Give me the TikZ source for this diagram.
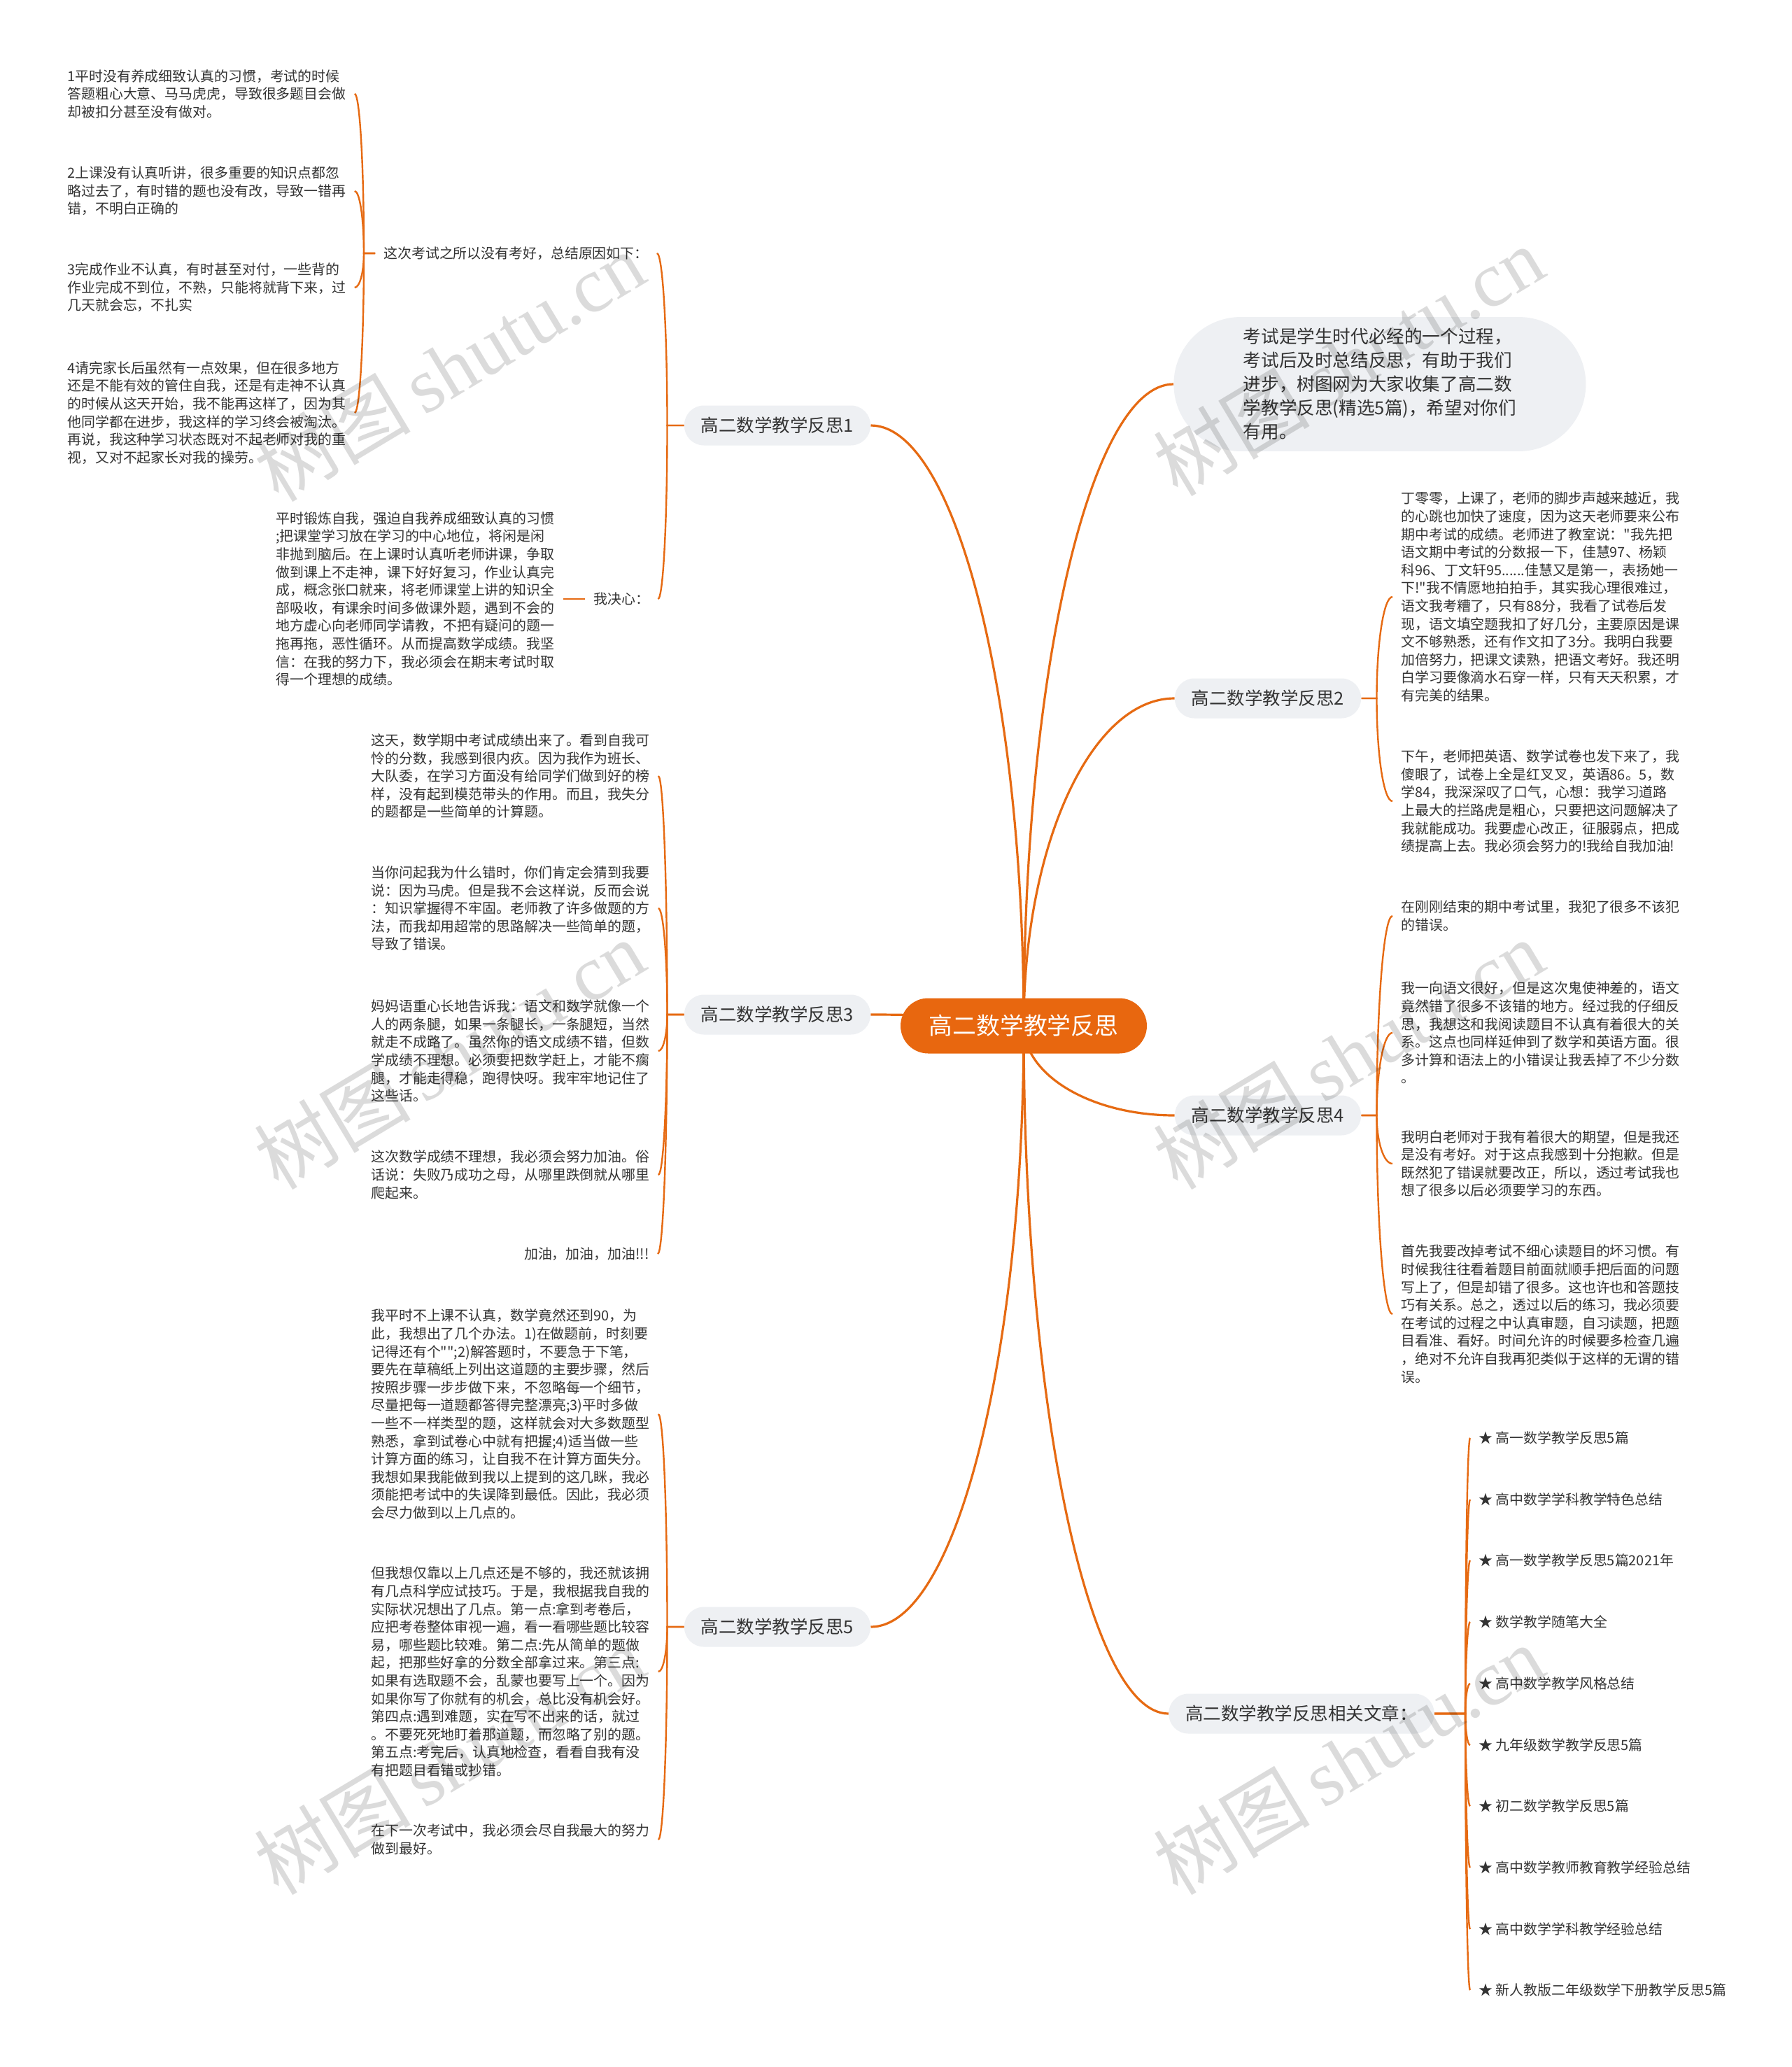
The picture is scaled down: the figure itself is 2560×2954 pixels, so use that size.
\documentclass[tikz,border=0pt]{standalone}
\usepackage{fontspec}
\setmainfont{Noto Sans CJK SC}[Ligatures=TeXOff]
\newfontfamily\wmserif{Liberation Serif}
\usetikzlibrary{calc}
\pgfdeclarelayer{back}
\pgfdeclarelayer{bg}
\pgfdeclarelayer{fore}
\pgfsetlayers{back,bg,main,fore}
\definecolor{conn}{HTML}{E66A12}
\definecolor{ctr}{HTML}{E8670F}
\definecolor{bfill}{HTML}{EEF0F3}
\definecolor{tx}{HTML}{333333}
\tikzset{
  brk/.style={to path={let \p1=([xshift=#1]\tikztostart), \p2=(\tikztotarget) in -- (\p1) .. controls ($(\p1)!0.5523!(\x1,\y2)$) and ($(\p2)!0.5523!(\x1,\y2)$) .. (\p2)}},
  mainln/.style={draw=conn, line width=1.6pt},
  subln/.style={draw=conn, line width=1.2pt},
  small/.style={font=\fontsize{9.95pt}{12.8pt}\selectfont, text=tx, align=left, inner xsep=6pt, inner ysep=0pt},
  branch/.style={fill=bfill, rounded corners=14pt, font=\fontsize{12.75pt}{15pt}\selectfont, text=tx, inner xsep=12pt, inner ysep=0pt, minimum height=28.5pt},
  centre/.style={fill=ctr, text=white, rounded corners=19.75pt, minimum width=176pt, minimum height=39.5pt, font=\fontsize{16.9pt}{20pt}\selectfont, inner sep=0pt},
  intro/.style={fill=bfill, rounded corners=48pt, font=\fontsize{12.8pt}{17pt}\selectfont, text=tx, align=left, inner xsep=48pt, inner ysep=8pt, minimum width=294.5pt},
  wm/.style={text=black, opacity=0.14, font=\fontsize{56pt}{56pt}\selectfont, inner sep=0pt}
}
\begin{document}
\begin{tikzpicture}[x=0.5pt, y=-0.5pt]
\useasboundingbox (0,0) rectangle (2560,2954);
\begin{pgfonlayer}{back}
\fill[white] (0,0) rectangle (2560,2954);
\end{pgfonlayer}

% centre and branches
\node[centre] (M) at (1463,1466) {高二数学教学反思};
\node[branch] (B1) at (1111,608) {高二数学教学反思1};
\node[branch] (B3) at (1111,1450) {高二数学教学反思3};
\node[branch] (B5) at (1111,2325) {高二数学教学反思5};
\node[branch] (B2) at (1812,998) {高二数学教学反思2};
\node[branch] (B4) at (1812,1594) {高二数学教学反思4};
\node[branch] (B6) at (1860,2449) {高二数学教学反思相关文章：};
\node[intro, anchor=west] (IN) at (1677,549) {考试是学生时代必经的一个过程，\\考试后及时总结反思，有助于我们\\进步，树图网为大家收集了高二数\\学教学反思(精选5篇)，希望对你们\\有用。};

% branch 1
\node[small, anchor=west] (C1a) at (536,362) {这次考试之所以没有考好，总结原因如下：};
\node[small, anchor=west] (C1b) at (836,856) {我决心：};
\node[small, anchor=west] (I1) at (84,134) {1平时没有养成细致认真的习惯，考试的时候\\答题粗心大意、马马虎虎，导致很多题目会做\\却被扣分甚至没有做对。};
\node[small, anchor=west] (I2) at (84,273) {2上课没有认真听讲，很多重要的知识点都忽\\略过去了，有时错的题也没有改，导致一错再\\错，不明白正确的};
\node[small, anchor=west] (I3) at (84,411) {3完成作业不认真，有时甚至对付，一些背的\\作业完成不到位，不熟，只能将就背下来，过\\几天就会忘，不扎实};
\node[small, anchor=west] (I4) at (84,590) {4请完家长后虽然有一点效果，但在很多地方\\还是不能有效的管住自我，还是有走神不认真\\的时候从这天开始，我不能再这样了，因为其\\他同学都在进步，我这样的学习终会被淘汰。\\再说，我这种学习状态既对不起老师对我的重\\视，又对不起家长对我的操劳。};
\node[small, anchor=west] (D1) at (382,856) {平时锻炼自我，强迫自我养成细致认真的习惯\\;把课堂学习放在学习的中心地位，将闲是闲\\非抛到脑后。在上课时认真听老师讲课，争取\\做到课上不走神，课下好好复习，作业认真完\\成，概念张口就来，将老师课堂上讲的知识全\\部吸收，有课余时间多做课外题，遇到不会的\\地方虚心向老师同学请教，不把有疑问的题一\\拖再拖，恶性循环。从而提高数学成绩。我坚\\信：在我的努力下，我必须会在期末考试时取\\得一个理想的成绩。};

% branch 3
\node[small, anchor=west] (T3a) at (518,1109) {这天，数学期中考试成绩出来了。看到自我可\\怜的分数，我感到很内疚。因为我作为班长、\\大队委，在学习方面没有给同学们做到好的榜\\样，没有起到模范带头的作用。而且，我失分\\的题都是一些简单的计算题。};
\node[small, anchor=west] (T3b) at (518,1298) {当你问起我为什么错时，你们肯定会猜到我要\\说：因为马虎。但是我不会这样说，反而会说\\：知识掌握得不牢固。老师教了许多做题的方\\法，而我却用超常的思路解决一些简单的题，\\导致了错误。};
\node[small, anchor=west] (T3c) at (518,1502) {妈妈语重心长地告诉我：语文和数学就像一个\\人的两条腿，如果一条腿长，一条腿短，当然\\就走不成路了。虽然你的语文成绩不错，但数\\学成绩不理想。必须要把数学赶上，才能不瘸\\腿，才能走得稳，跑得快呀。我牢牢地记住了\\这些话。};
\node[small, anchor=west] (T3d) at (518,1679) {这次数学成绩不理想，我必须会努力加油。俗\\话说：失败乃成功之母，从哪里跌倒就从哪里\\爬起来。};
\node[small, anchor=east] (T3e) at (940,1792) {加油，加油，加油!!!};

% branch 5
\node[small, anchor=west] (T5a) at (518,2021) {我平时不上课不认真，数学竟然还到90，为\\此，我想出了几个办法。1)在做题前，时刻要\\记得还有个"";2)解答题时，不要急于下笔，\\要先在草稿纸上列出这道题的主要步骤，然后\\按照步骤一步步做下来，不忽略每一个细节，\\尽量把每一道题都答得完整漂亮;3)平时多做\\一些不一样类型的题，这样就会对大多数题型\\熟悉，拿到试卷心中就有把握;4)适当做一些\\计算方面的练习，让自我不在计算方面失分。\\我想如果我能做到我以上提到的这几眯，我必\\须能把考试中的失误降到最低。因此，我必须\\会尽力做到以上几点的。};
\node[small, anchor=west] (T5b) at (518,2389) {但我想仅靠以上几点还是不够的，我还就该拥\\有几点科学应试技巧。于是，我根据我自我的\\实际状况想出了几点。第一点:拿到考卷后，\\应把考卷整体审视一遍，看一看哪些题比较容\\易，哪些题比较难。第二点:先从简单的题做\\起，把那些好拿的分数全部拿过来。第三点:\\如果有选取题不会，乱蒙也要写上一个。因为\\如果你写了你就有的机会，总比没有机会好。\\第四点:遇到难题，实在写不出来的话，就过\\。不要死死地盯着那道题，而忽略了别的题。\\第五点:考完后，认真地检查，看看自我有没\\有把题目看错或抄错。};
\node[small, anchor=west] (T5c) at (518,2629) {在下一次考试中，我必须会尽自我最大的努力\\做到最好。};

% branch 2
\node[small, anchor=west] (T2a) at (1990,853) {丁零零，上课了，老师的脚步声越来越近，我\\的心跳也加快了速度，因为这天老师要来公布\\期中考试的成绩。老师进了教室说："我先把\\语文期中考试的分数报一下，佳慧97、杨颖\\科96、丁文轩95......佳慧又是第一，表扬她一\\下!"我不情愿地拍拍手，其实我心理很难过，\\语文我考糟了，只有88分，我看了试卷后发\\现，语文填空题我扣了好几分，主要原因是课\\文不够熟悉，还有作文扣了3分。我明白我要\\加倍努力，把课文读熟，把语文考好。我还明\\白学习要像滴水石穿一样，只有天天积累，才\\有完美的结果。};
\node[small, anchor=west] (T2b) at (1990,1145) {下午，老师把英语、数学试卷也发下来了，我\\傻眼了，试卷上全是红叉叉，英语86。5，数\\学84，我深深叹了口气，心想：我学习道路\\上最大的拦路虎是粗心，只要把这问题解决了\\我就能成功。我要虚心改正，征服弱点，把成\\绩提高上去。我必须会努力的!我给自我加油!};

% branch 4
\node[small, anchor=west] (T4a) at (1990,1309) {在刚刚结束的期中考试里，我犯了很多不该犯\\的错误。};
\node[small, anchor=west] (T4b) at (1990,1476) {我一向语文很好，但是这次鬼使神差的，语文\\竟然错了很多不该错的地方。经过我的仔细反\\思，我想这和我阅读题目不认真有着很大的关\\系。这点也同样延伸到了数学和英语方面。很\\多计算和语法上的小错误让我丢掉了不少分数\\。};
\node[small, anchor=west] (T4c) at (1990,1663) {我明白老师对于我有着很大的期望，但是我还\\是没有考好。对于这点我感到十分抱歉。但是\\既然犯了错误就要改正，所以，透过考试我也\\想了很多以后必须要学习的东西。};
\node[small, anchor=west] (T4d) at (1990,1878) {首先我要改掉考试不细心读题目的坏习惯。有\\时候我往往看着题目前面就顺手把后面的问题\\写上了，但是却错了很多。这也许也和答题技\\巧有关系。总之，透过以后的练习，我必须要\\在考试的过程之中认真审题，自习读题，把题\\目看准、看好。时间允许的时候要多检查几遍\\，绝对不允许自我再犯类似于这样的无谓的错\\误。};

% related articles
\node[small, anchor=west] (R1) at (2101,2055) {★ 高一数学教学反思5篇};
\node[small, anchor=west] (R2) at (2101,2143) {★ 高中数学学科教学特色总结};
\node[small, anchor=west] (R3) at (2101,2230) {★ 高一数学教学反思5篇2021年};
\node[small, anchor=west] (R4) at (2101,2318) {★ 数学教学随笔大全};
\node[small, anchor=west] (R5) at (2101,2406) {★ 高中数学教学风格总结};
\node[small, anchor=west] (R6) at (2101,2494) {★ 九年级数学教学反思5篇};
\node[small, anchor=west] (R7) at (2101,2581) {★ 初二数学教学反思5篇};
\node[small, anchor=west] (R8) at (2101,2669) {★ 高中数学教师教育教学经验总结};
\node[small, anchor=west] (R9) at (2101,2757) {★ 高中数学学科教学经验总结};
\node[small, anchor=west] (R10) at (2101,2844) {★ 新人教版二年级数学下册教学反思5篇};

\begin{pgfonlayer}{bg}
% main connectors
\foreach \b/\a in {B1/east,B3/east,B5/east,B2/west,B4/west,B6/west,IN/west}
  \draw[mainln] (M.center) to[brk=0pt] (\b.\a);
% branch 1
\foreach \c in {C1a,C1b} \draw[subln] (B1.west) to[brk=-12pt] (\c.east);
\foreach \c in {I1,I2,I3,I4} \draw[subln] (C1a.west) to[brk=-8pt] (\c.east);
\draw[subln] (C1b.west) to[brk=-8pt] (D1.east);
% branch 3, 5
\foreach \c in {T3a,T3b,T3c,T3d,T3e} \draw[subln] (B3.west) to[brk=-12pt] (\c.east);
\foreach \c in {T5a,T5b,T5c} \draw[subln] (B5.west) to[brk=-12pt] (\c.east);
% branch 2, 4
\foreach \c in {T2a,T2b} \draw[subln] (B2.east) to[brk=11pt] (\c.west);
\foreach \c in {T4a,T4b,T4c,T4d} \draw[subln] (B4.east) to[brk=11pt] (\c.west);
% related
\foreach \c in {R1,R2,R3,R4,R5,R6,R7,R8,R9,R10} \draw[subln] (B6.east) to[brk=22pt] (\c.west);
\end{pgfonlayer}

% watermarks
\begin{pgfonlayer}{fore}
\foreach \wx/\wy [count=\i] in {642/524,1927/516,642/1507,1927/1507,642/2515,1927/2515}
  \node[wm, rotate=31] (W\i) at (\wx,\wy) {树图\,{\wmserif shutu.cn}};
\end{pgfonlayer}
\end{tikzpicture}
\end{document}
